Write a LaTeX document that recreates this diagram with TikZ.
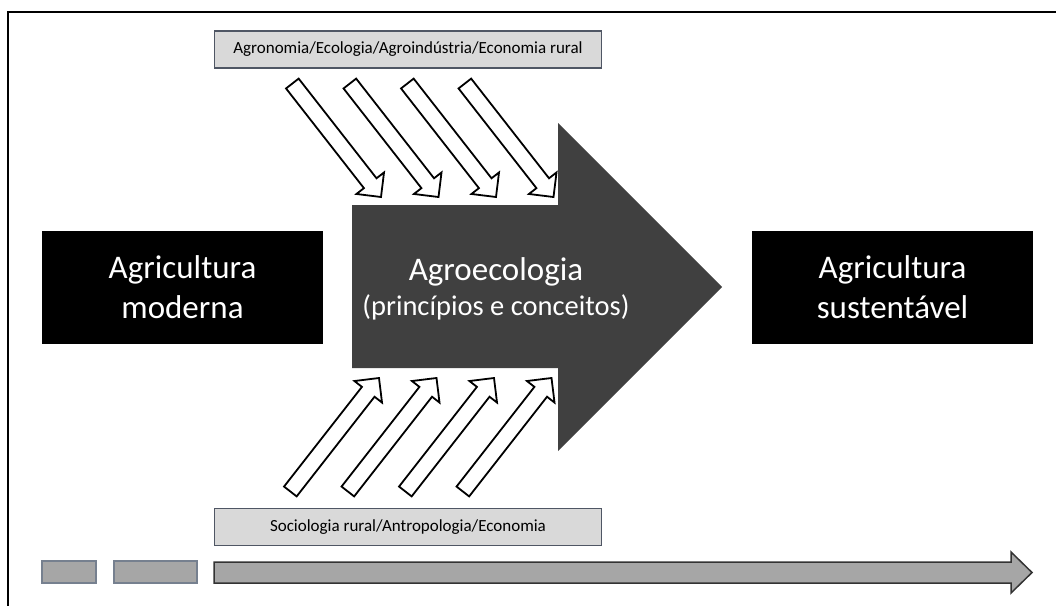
\documentclass[tikz,border=0pt]{standalone}
\usepackage{fontspec}
\setmainfont{Carlito}
\usetikzlibrary{positioning}
\definecolor{barfill}{HTML}{D9D9D9}
\definecolor{barline}{HTML}{4F5664}
\definecolor{coregray}{HTML}{404040}
\definecolor{timegray}{HTML}{A6A6A6}
\definecolor{stageline}{HTML}{76808F}

\begin{document}
\begin{tikzpicture}[x=1pt,y=-1pt,
 darkbox/.style={fill=black,text=white,minimum width=281pt,minimum height=113pt,align=center,font=\fontsize{33}{40}\selectfont},
 fieldbar/.style={fill=barfill,draw=barline,line width=1.3pt,minimum width=387pt,minimum height=37pt,font=\fontsize{17}{20}\selectfont},
 feeder/.style={fill=white,draw=black,line width=1.8pt,line join=miter},
 stage/.style={fill=timegray,draw=stageline,line width=1.2pt}]
\useasboundingbox (0,0) rectangle (1056,606);
\draw[line width=2.5pt] (1056,12) -- (8,12) -- (8,606);
% big arrow
\fill[coregray] (352,205) -- (558,205) -- (558,123) -- (722,287) -- (558,451) -- (558,368) -- (352,368) -- cycle;
\node[text=white,align=center,font=\fontsize{28.5}{35}\selectfont] (agroeco) at (496,288.5) {{\fontsize{33}{35}\selectfont Agroecologia}\\(princípios e conceitos)};
\node[darkbox] (moderna) at (182.5,287.5) {Agricultura\\moderna};
\node[darkbox] (sustentavel) at (892.5,287.5) {Agricultura\\sustentável};
\node[fieldbar] (topbar) at (408,49.5) {Agronomia/Ecologia/Agroindústria/Economia rural};
\node[fieldbar] (basebar) at (408,527) {Sociologia rural/Antropologia/Economia};
\foreach \k in {0,...,3}{
 \begin{scope}[shift={(381+57.5*\k,197)},rotate=-52]
  \filldraw[feeder] (0,0) -- (-17.5,17.5) -- (-17.5,8) -- (-144,8) -- (-144,-8) -- (-17.5,-8) -- (-17.5,-17.5) -- cycle;
 \end{scope}
 \begin{scope}[shift={(379+57.5*\k,378)},rotate=52]
  \filldraw[feeder] (0,0) -- (-17.5,17.5) -- (-17.5,8) -- (-144,8) -- (-144,-8) -- (-17.5,-8) -- (-17.5,-17.5) -- cycle;
 \end{scope}
}
% time line
\filldraw[stage] (42,561) rectangle (96,583);
\filldraw[stage] (114,561) rectangle (197,583);
\filldraw[fill=timegray,draw=black!80,line width=1.5pt] (214,562) -- (1011,562) -- (1011,552) -- (1032,572.5) -- (1011,593) -- (1011,583) -- (214,583) -- cycle;
\end{tikzpicture}
\end{document}
